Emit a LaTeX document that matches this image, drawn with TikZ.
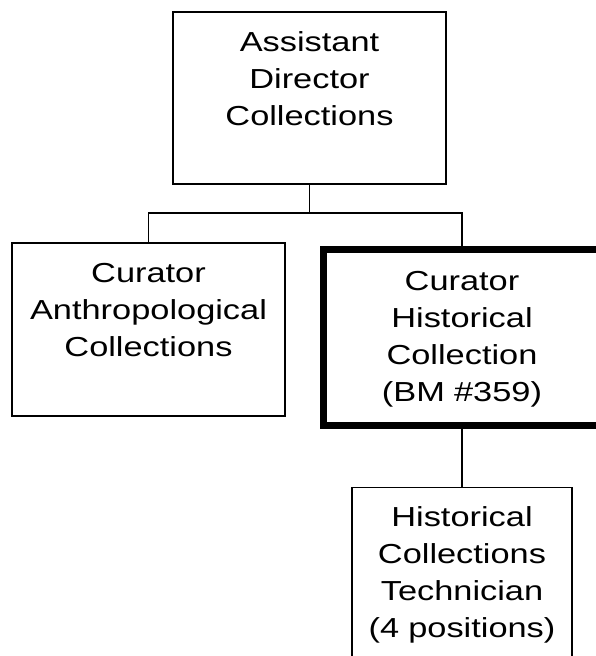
\documentclass[tikz,border=0pt]{standalone}
\usepackage{fontspec}
\setmainfont[FakeStretch=1.25]{Liberation Sans}
\usepackage{tikz}
\usetikzlibrary{positioning}

\begin{document}
\begin{tikzpicture}[x=1pt,y=-1pt,
  box/.style={draw,line width=1.5pt,inner sep=0pt,align=center,text height=40pt,
    font=\fontsize{27.5}{37}\selectfont},
  chief/.style={box,line width=7pt},
  link/.style={line width=1.3pt}]
  \useasboundingbox (0,0) rectangle (595,656);
  \node[box,text width=273pt,text depth=132pt,anchor=north] (asst) at (309.5,11) {Assistant\\Director\\Collections};
  \node[box,text width=273pt,text depth=133pt,anchor=north] (anth) at (148.5,242) {Curator\\Anthropological\\Collections};
  \node[chief,text width=277pt,text height=41.5pt,text depth=135pt,anchor=north] (hist) at (462,245.5) {Curator\\Historical\\Collection\\(BM \#359)};
  \node[box,text width=220pt,text height=39pt,text depth=132pt,below=57.75pt of hist] (tech) {Historical\\Collections\\Technician\\(4 positions)};
  % connectors
  \coordinate (bus) at (309.5,213);
  \draw[link] (asst.south) -- (bus);
  \draw[link] (anth.north) |- (bus) -| (hist.north);
  \draw[link] (hist.south) -- (tech.north);
\end{tikzpicture}
\end{document}
